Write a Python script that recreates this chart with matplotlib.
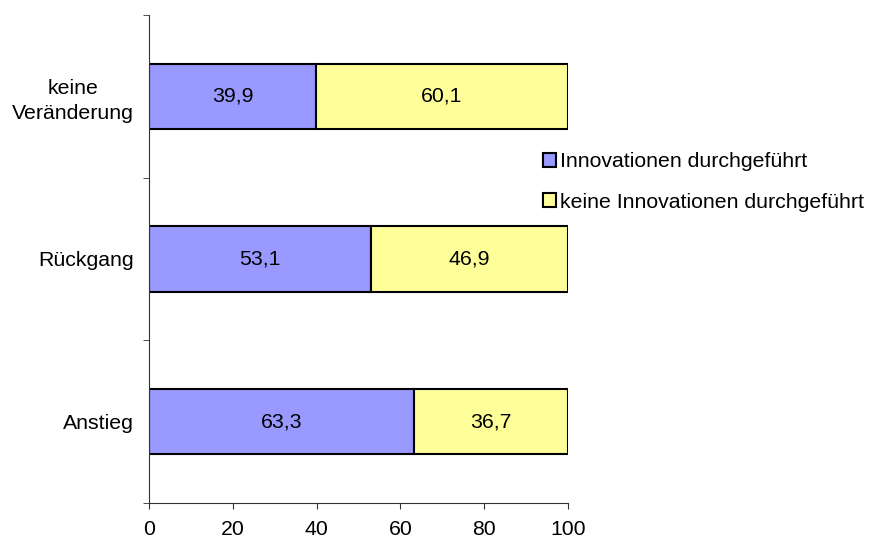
import numpy as np
from matplotlib import pyplot as plt

plt.rcParams['font.family'] = ['Liberation Sans', 'DejaVu Sans']

# Kategorien (von unten nach oben) und Anteile in Prozent
kategorien = ['Anstieg', 'Rückgang', 'keine\nVeränderung']
innovationen = [63.3, 53.1, 39.9]
keine_innovationen = [36.7, 46.9, 60.1]
serien = ['Innovationen durchgeführt', 'keine Innovationen durchgeführt']
farben = ['#9999FF', '#FFFF99']
fs = 15.3

fig = plt.figure(figsize=(8.69, 5.43), dpi=100)
ax = fig.add_axes([0.1715, 0.0737, 0.482, 0.8987])

pos = np.arange(len(kategorien)) + 0.5
b1 = ax.barh(pos, innovationen, height=0.4, color=farben[0],
             edgecolor='black', linewidth=1.5, label=serien[0])
b2 = ax.barh(pos, keine_innovationen, left=innovationen, height=0.4,
             color=farben[1], edgecolor='black', linewidth=1.5, label=serien[1])

for bars, werte in ((b1, innovationen), (b2, keine_innovationen)):
    ax.bar_label(bars, labels=[f'{w:.1f}'.replace('.', ',') for w in werte],
                 label_type='center', fontsize=fs)

ax.set_xlim(0, 100)
ax.set_ylim(0, 3)
ax.set_xticks(np.arange(0, 101, 20))
ax.set_yticks(pos)
ax.set_yticklabels(kategorien, multialignment='center', linespacing=1.35)
ax.tick_params(axis='y', length=0, pad=11, labelsize=fs)
ax.set_yticks(np.arange(0, 4), minor=True)
ax.tick_params(axis='y', which='minor', length=4, color='#333333')
ax.tick_params(axis='x', length=4, color='#333333', labelsize=fs, pad=8)

ax.spines['top'].set_visible(False)
ax.spines['right'].set_visible(False)
ax.spines['left'].set_color('#333333')
ax.spines['bottom'].set_color('#333333')

fig.legend(loc='upper left', bbox_to_anchor=(0.615, 0.735), frameon=False,
           fontsize=fs, handlelength=0.6, handleheight=0.6, handletextpad=0.2,
           labelspacing=1.0, borderaxespad=0)

fig.savefig('out.png', dpi=100)
